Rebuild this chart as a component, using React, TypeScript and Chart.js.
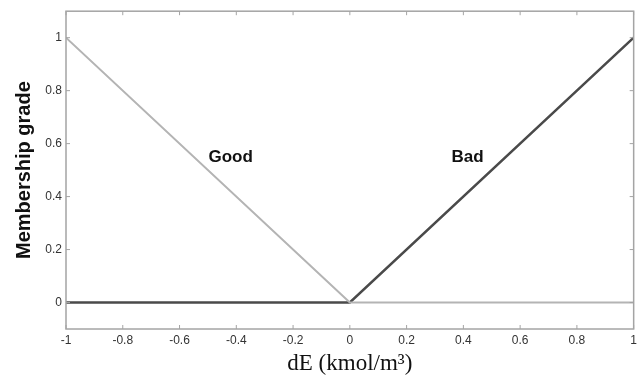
import React, { useEffect, useRef } from "react";
import { Chart, registerables } from "chart.js";

Chart.register(...registerables);

const xGood = [-1, 0, 1];
const yGood = [1, 0, 0];
const xBad = [-1, 0, 1];
const yBad = [0, 0, 1];

const xTicks = [-1, -0.8, -0.6, -0.4, -0.2, 0, 0.2, 0.4, 0.6, 0.8, 1];
const xTickLabels = ["-1", "-0.8", "-0.6", "-0.4", "-0.2", "0", "0.2", "0.4", "0.6", "0.8", "1"];
const yTicks = [0, 0.2, 0.4, 0.6, 0.8, 1];
const yTickLabels = ["0", "0.2", "0.4", "0.6", "0.8", "1"];

const annText = ["Good", "Bad"];
const annX = [-0.42, 0.415];
const annY = [0.55, 0.55];

const boxPlugin = {
  id: "boxPlugin",
  afterDatasetsDraw(chart: any) {
    const { ctx, chartArea } = chart;
    const xs = chart.scales.x;
    const ys = chart.scales.y;
    const { left, right, top, bottom } = chartArea;
    ctx.save();
    ctx.strokeStyle = "#a4a4a4";
    ctx.lineWidth = 1.5;
    ctx.strokeRect(left, top, right - left, bottom - top);
    const tl = 4;
    ctx.lineWidth = 1;
    ctx.beginPath();
    xTicks.forEach((v) => {
      const px = xs.getPixelForValue(v);
      ctx.moveTo(px, bottom);
      ctx.lineTo(px, bottom - tl);
      ctx.moveTo(px, top);
      ctx.lineTo(px, top + tl);
    });
    yTicks.forEach((v) => {
      const py = ys.getPixelForValue(v);
      ctx.moveTo(left, py);
      ctx.lineTo(left + tl, py);
      ctx.moveTo(right, py);
      ctx.lineTo(right - tl, py);
    });
    ctx.stroke();
    ctx.fillStyle = "#111";
    ctx.font = "bold 17px 'Liberation Sans', Arial, sans-serif";
    ctx.textAlign = "center";
    ctx.textBaseline = "middle";
    annText.forEach((t, i) => {
      ctx.fillText(t, xs.getPixelForValue(annX[i]), ys.getPixelForValue(annY[i]));
    });
    ctx.restore();
  },
};

export default function App() {
  const ref = useRef<HTMLCanvasElement | null>(null);
  useEffect(() => {
    if (!ref.current) return;
    const chart = new Chart(ref.current, {
      type: "scatter",
      data: {
        datasets: [
          {
            label: "Good",
            data: xGood.map((x, i) => ({ x, y: yGood[i] })),
            showLine: true,
            borderColor: "#b4b4b4",
            borderWidth: 2,
            pointRadius: 0,
            tension: 0,
          },
          {
            label: "Bad",
            data: xBad.map((x, i) => ({ x, y: yBad[i] })),
            showLine: true,
            borderColor: "#4a4a4a",
            borderWidth: 2.5,
            pointRadius: 0,
            tension: 0,
          },
        ],
      },
      options: {
        responsive: false,
        animation: false,
        devicePixelRatio: 1,
        layout: { padding: { top: 8, right: 6, left: 0, bottom: 0 } },
        plugins: { legend: { display: false }, tooltip: { enabled: false } },
        scales: {
          x: {
            type: "linear",
            min: -1,
            max: 1,
            grid: { display: false, drawTicks: false },
            border: { display: false },
            afterBuildTicks: (s: any) => {
              s.ticks = xTicks.map((v) => ({ value: v }));
            },
            afterFit: (s: any) => {
              s.height = 50;
            },
            ticks: {
              autoSkip: false,
              maxRotation: 0,
              padding: 4,
              color: "#333",
              font: { family: "'Liberation Sans', Arial, sans-serif", size: 12 },
              callback: (_v: any, i: number) => xTickLabels[i],
            },
            title: {
              display: true,
              text: "dE (kmol/m³)",
              color: "#111",
              font: { family: "'Liberation Serif', 'Times New Roman', serif", size: 23 },
              padding: { top: 0, bottom: 1 },
            },
          },
          y: {
            type: "linear",
            min: -0.1,
            max: 1.1,
            grid: { display: false, drawTicks: false },
            border: { display: false },
            afterBuildTicks: (s: any) => {
              s.ticks = yTicks.map((v) => ({ value: v }));
            },
            afterFit: (s: any) => {
              s.width = 66;
            },
            ticks: {
              autoSkip: false,
              padding: 4,
              color: "#333",
              font: { family: "'Liberation Sans', Arial, sans-serif", size: 12 },
              callback: (_v: any, i: number) => yTickLabels[i],
            },
            title: {
              display: true,
              text: "Membership grade",
              color: "#111",
              font: { family: "'Liberation Sans', Arial, sans-serif", size: 20, weight: "bold" },
              padding: { top: 12, bottom: 0 },
            },
          },
        },
      },
      plugins: [boxPlugin],
    } as any);
    return () => chart.destroy();
  }, []);
  return (
    <div style={{ position: "absolute", left: 0, top: 0, width: 641, height: 379, background: "#fff" }}>
      <canvas ref={ref} width={641} height={379} />
    </div>
  );
}
